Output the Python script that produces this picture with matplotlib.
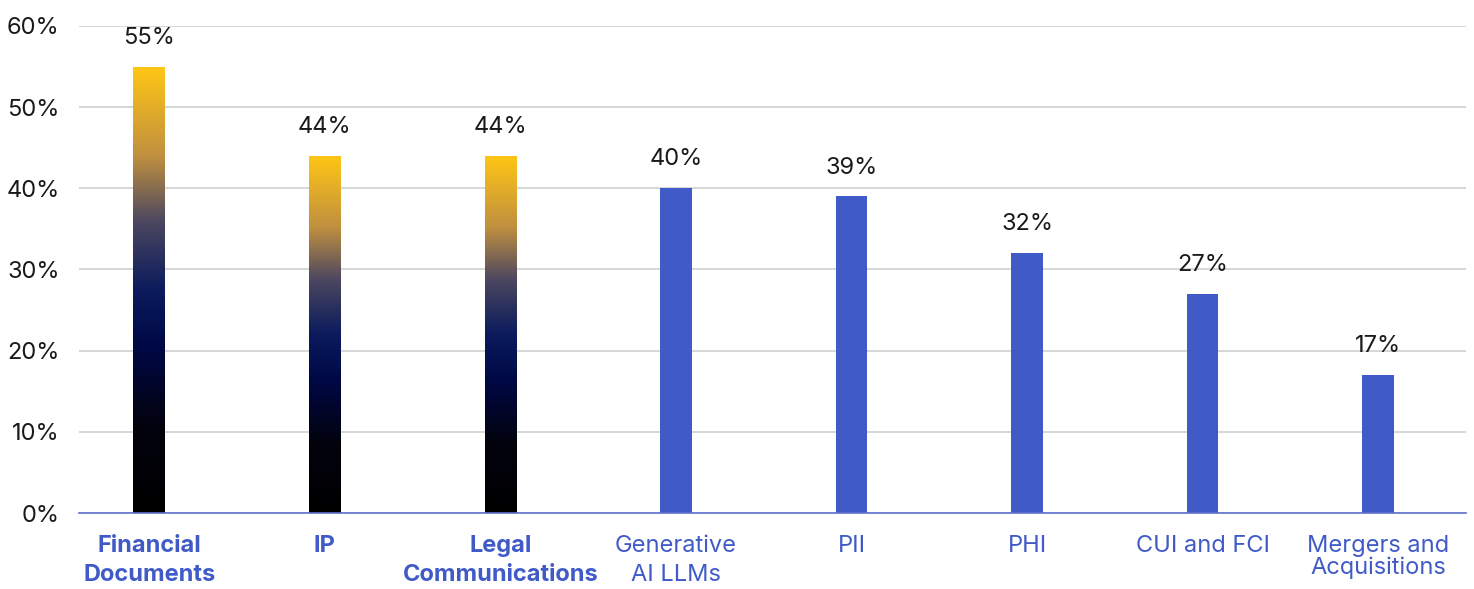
import numpy as np
import matplotlib
matplotlib.use("Agg")
import matplotlib.pyplot as plt
from matplotlib.colors import LinearSegmentedColormap
from matplotlib.patches import Rectangle

plt.rcParams['font.family'] = ['Inter', 'DejaVu Sans']

categories = ["Financial\nDocuments", "IP", "Legal\nCommunications", "Generative\nAI LLMs",
              "PII", "PHI", "CUI and FCI", "Mergers and\nAcquisitions"]
values = [55, 44, 44, 40, 39, 32, 27, 17]
highlight = [True, True, True, False, False, False, False, False]
yticks = [0, 10, 20, 30, 40, 50, 60]

blue = "#405BC8"
grad = LinearSegmentedColormap.from_list("grad", [
    (0.0, "#000000"), (0.2, "#03030f"), (0.37, "#000845"), (0.5, "#0b1b5c"),
    (0.65, "#4a4660"), (0.8, "#c09040"), (1.0, "#ffc614")])

fig = plt.figure(figsize=(14.74, 5.89), dpi=100)
ax = fig.add_axes([0.0536, 0.129, 0.941, 0.827])

x = np.arange(len(categories))
width = 0.18
bars = ax.bar(x, values, width=width, color=blue, zorder=2)

ramp = np.linspace(0, 1, 256).reshape(-1, 1)
for b, hl in zip(bars, highlight):
    if hl:
        b.set_facecolor("none")
        x0, w, h = b.get_x(), b.get_width(), b.get_height()
        im = ax.imshow(ramp, cmap=grad, origin="lower", aspect="auto",
                       extent=[x0, x0 + w, 0, h], zorder=2)
        clip = Rectangle((x0, 0), w, h, transform=ax.transData)
        im.set_clip_path(clip)

for xi, v in zip(x, values):
    ax.text(xi, v + 2.2, f"{v}%", ha="center", va="bottom", fontsize=17, color="#1a1a1a")

ax.set_xlim(-0.4, 7.5)
ax.set_ylim(0, 60)
ax.set_yticks(yticks)
ax.set_yticklabels([f"{t}%" for t in yticks], fontsize=17, color="#1a1a1a")
ax.set_xticks(x)
ax.set_xticklabels(categories, fontsize=17, color=blue, linespacing=1.4)
for lbl, hl in zip(ax.get_xticklabels(), highlight):
    if hl:
        lbl.set_fontweight("bold")
ax.get_xticklabels()[-1].set_linespacing(0.95)
ax.tick_params(axis="both", length=0)
ax.tick_params(axis="y", pad=14)
ax.tick_params(axis="x", pad=16)

ax.grid(axis="y", color="#d0d0d0", linewidth=1.2, zorder=0)
for s in ["top", "right", "left"]:
    ax.spines[s].set_visible(False)
ax.spines["bottom"].set_color("#6070d0")
ax.spines["bottom"].set_linewidth(1.2)
ax.spines["bottom"].set_zorder(3)

fig.savefig("out.png", dpi=100)
